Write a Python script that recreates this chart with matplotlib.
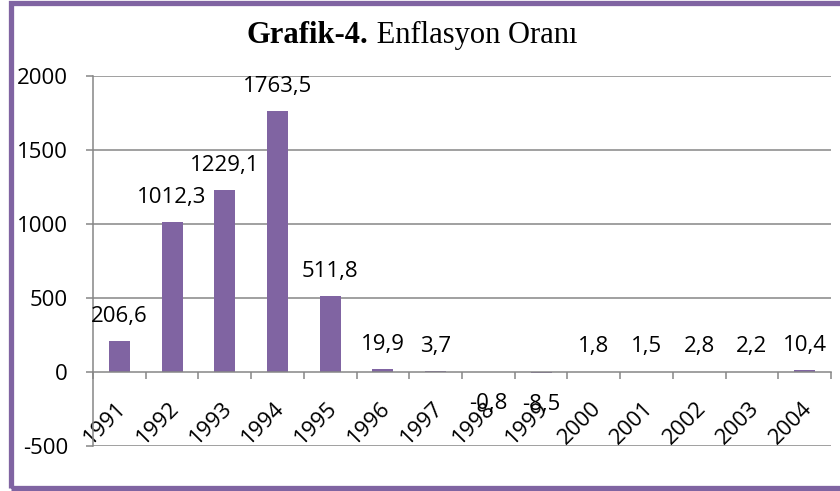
import matplotlib
matplotlib.use("Agg")
import matplotlib.pyplot as plt
from matplotlib.patches import Rectangle
from matplotlib.transforms import ScaledTranslation
import numpy as np

years = ["1991", "1992", "1993", "1994", "1995", "1996", "1997",
         "1998", "1999", "2000", "2001", "2002", "2003", "2004"]
values = [206.6, 1012.3, 1229.1, 1763.5, 511.8, 19.9, 3.7,
          -0.8, -8.5, 1.8, 1.5, 2.8, 2.2, 10.4]
labels = ["206,6", "1012,3", "1229,1", "1763,5", "511,8", "19,9", "3,7",
          "-0,8", "-8,5", "1,8", "1,5", "2,8", "2,2", "10,4"]
yticks = [-500, 0, 500, 1000, 1500, 2000]

W, H = 840, 491
fig = plt.figure(figsize=(W / 100, H / 100), dpi=100)
purple = "#8064A2"
grid = "#868686"
font = "Open Sans"
fs = 16

# axes placement in pixels
x0, x1 = 93, 831
ytop, ybot = 76, 446
ax = fig.add_axes([x0 / W, 1 - ybot / H, (x1 - x0) / W, (ybot - ytop) / H])

x = np.arange(len(years))
ax.bar(x, values, width=0.40, color=purple, zorder=3)
ax.set_xlim(-0.5, len(years) - 0.5)
ax.set_ylim(-500, 2000)

lw = 1.1
for s in ["top", "right"]:
    ax.spines[s].set_visible(False)
ax.spines["left"].set_color(grid)
ax.spines["left"].set_linewidth(lw)
ax.spines["bottom"].set_position(("data", 0))
ax.spines["bottom"].set_color(grid)
ax.spines["bottom"].set_linewidth(lw)
ax.spines["bottom"].set_zorder(4)

ax.set_yticks(yticks)
ax.set_yticklabels([str(v) for v in yticks], fontsize=fs, family=font)
ax.tick_params(axis="y", length=5, color=grid, width=lw, pad=13)
for v in yticks:
    if v != 0:
        ax.axhline(v, color=grid, lw=lw, zorder=1)

ax.set_xticks(x)
ax.set_xticklabels(years, fontsize=fs, family=font, rotation=45,
                   ha="right", va="center", rotation_mode="anchor")
ax.tick_params(axis="x", which="major", length=0, pad=24)
shift = ScaledTranslation(4 / 100, 0, fig.dpi_scale_trans)
for lab in ax.get_xticklabels():
    lab.set_transform(lab.get_transform() + shift)
ax.set_xticks(np.arange(len(years) + 1) - 0.5, minor=True)
ax.tick_params(axis="x", which="minor", length=5, color=grid, width=lw,
               direction="out")

for xi, v, lab in zip(x, values, labels):
    off = 25 if v >= 0 else -31
    ax.annotate(lab, (xi, v), xytext=(0, off), textcoords="offset pixels",
                ha="center", va="center", fontsize=fs, family=font, zorder=5)

t1 = fig.text(0, 1 - 43 / H, "Grafik-4.", fontsize=22, family="Liberation Serif",
              fontweight="bold", ha="left", va="baseline")
t2 = fig.text(0, 1 - 43 / H, " Enflasyon Oranı", fontsize=22, family="Liberation Serif",
              ha="left", va="baseline")
fig.canvas.draw()
r = fig.canvas.get_renderer()
w1 = t1.get_window_extent(r).width
w2 = t2.get_window_extent(r).width
start = 412 - (w1 + w2) / 2
t1.set_x(start / W)
t2.set_x((start + w1) / W)

border = Rectangle((11 / W, 3.5 / H), (850 - 11) / W, (488 - 3.5) / H,
                   transform=fig.transFigure, fill=False, edgecolor=purple,
                   linewidth=3.8, clip_on=False)
fig.patches.append(border)

fig.savefig("out.png", dpi=100)
